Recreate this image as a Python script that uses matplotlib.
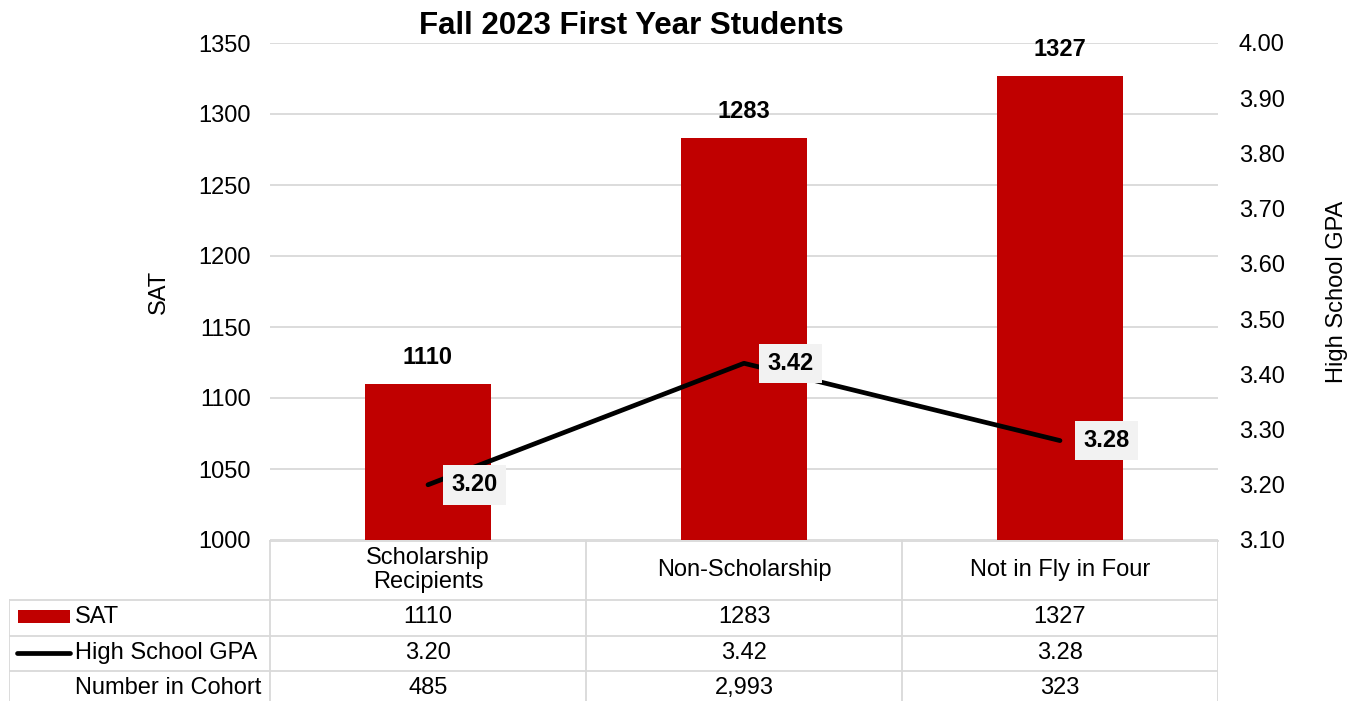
import matplotlib.pyplot as plt
from matplotlib.patches import Rectangle

plt.rcParams["font.family"] = ["Liberation Sans", "DejaVu Sans"]

categories = ["Scholarship\nRecipients", "Non-Scholarship", "Not in Fly in Four"]
sat = [1110, 1283, 1327]
gpa = [3.20, 3.42, 3.28]
cohort = [485, 2993, 323]

RED = "#C00000"
GRID = "#d9d9d9"
W, H = 1365, 701
FS = 17

fig = plt.figure(figsize=(W / 100, H / 100), dpi=100)

# plot area in pixels: x 270..1218, y 43..540
px_l, px_r, px_t, px_b = 270, 1218, 43, 540
ax = fig.add_axes([px_l / W, 1 - px_b / H, (px_r - px_l) / W, (px_b - px_t) / H])
x = list(range(len(categories)))

ax.bar(x, sat, width=0.4, color=RED, zorder=2)
ax.set_xlim(-0.5, 2.5)
ax.set_ylim(1000, 1350)
ax.set_yticks(range(1000, 1351, 50))
ax.set_xticks([])
ax.grid(axis="y", color=GRID, lw=1.3, zorder=0)
ax.tick_params(axis="y", length=0, labelsize=FS, pad=14)
for s in ax.spines.values():
    s.set_visible(False)
ax.set_ylabel("SAT", fontsize=FS, labelpad=20)
for xi, v in zip(x, sat):
    ax.annotate(f"{v}", (xi, v), xytext=(0, 19), textcoords="offset points",
                ha="center", va="center", fontsize=FS, fontweight="bold")

ax2 = ax.twinx()
ax2.set_ylim(3.1, 4.0)
ax2.set_yticks([3.1 + 0.1 * i for i in range(10)])
ax2.set_yticklabels([f"{3.1 + 0.1 * i:.2f}" for i in range(10)])
ax2.tick_params(axis="y", length=0, labelsize=FS, pad=15)
for s in ax2.spines.values():
    s.set_visible(False)
ax2.set_ylabel("High School GPA", fontsize=FS, labelpad=30)
ax2.plot(x, gpa, color="black", lw=3.4, solid_capstyle="round", zorder=3)
for xi, v in zip(x, gpa):
    ax2.annotate(f"{v:.2f}", (xi, v), xytext=(17, 0), textcoords="offset points",
                 ha="left", va="center", fontsize=FS, fontweight="bold",
                 bbox=dict(boxstyle="square,pad=0.35", fc="#f2f2f2", ec="none"))

fig.text(631 / W, 1 - 26 / H, "Fall 2023 First Year Students",
         ha="center", va="center", fontsize=22.5, fontweight="bold")

# data table below the plot, x in category units, y in pixels from table top
tb_l = 9
axt = fig.add_axes([tb_l / W, 0, (px_r - tb_l) / W, (H - px_b) / H])
x0 = -0.5 - (px_l - tb_l) / 316
axt.set_xlim(x0, 2.5)
axt.set_ylim(H - px_b, 0)
axt.axis("off")


def px2x(p):
    return -0.5 + (p - px_l) / 316


lw = 1.3
axt.plot([-0.5, 2.5], [0.5, 0.5], color=GRID, lw=lw, clip_on=False)
for yy in [60, 96, 131]:
    axt.plot([x0, 2.5], [yy, yy], color=GRID, lw=lw)
for xx in [-0.5, 0.5, 1.5, 2.5]:
    axt.plot([xx, xx], [0, H - px_b], color=GRID, lw=lw)
axt.plot([x0, x0], [60, H - px_b], color=GRID, lw=lw)

rows_y = [77, 113, 148]
for xi, c in enumerate(categories):
    axt.text(xi, 30, c, ha="center", va="center", fontsize=FS, linespacing=1.15)
    axt.text(xi, rows_y[0], f"{sat[xi]}", ha="center", va="center", fontsize=FS)
    axt.text(xi, rows_y[1], f"{gpa[xi]:.2f}", ha="center", va="center", fontsize=FS)
    axt.text(xi, rows_y[2], f"{cohort[xi]:,}", ha="center", va="center", fontsize=FS)

lab_x = px2x(75)
axt.text(lab_x, rows_y[0], "SAT", ha="left", va="center", fontsize=FS)
axt.text(lab_x, rows_y[1], "High School GPA", ha="left", va="center", fontsize=FS)
axt.text(lab_x, rows_y[2], "Number in Cohort", ha="left", va="center", fontsize=FS)
axt.add_patch(Rectangle((px2x(18), 70), px2x(70) - px2x(18), 13, color=RED, lw=0))
axt.plot([px2x(17), px2x(70)], [113, 113], color="black", lw=3.4, solid_capstyle="round")

fig.savefig("out.png", dpi=100)
